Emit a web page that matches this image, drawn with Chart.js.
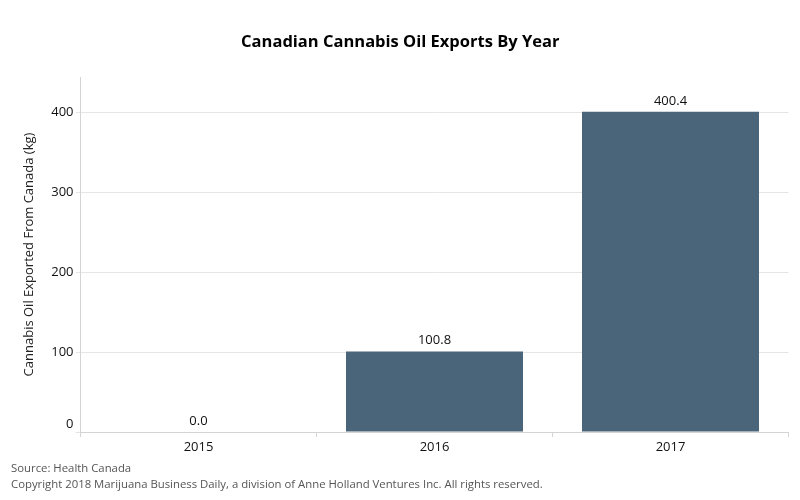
<!DOCTYPE html>
<html>
<head>
<meta charset="utf-8">
<style>
  html, body { margin: 0; padding: 0; background: #fff; }
</style>
</head>
<body>
<canvas id="exportsChart" width="800" height="500"></canvas>
<script src="https://cdn.jsdelivr.net/npm/chart.js@4"></script>
<script>
const years = ['2015', '2016', '2017'];
const exportsKg = [0.0, 100.8, 400.4];
const yTicks = [0, 100, 200, 300, 400];
const footerLines = [
    'Source: Health Canada',
    'Copyright 2018 Marijuana Business Daily, a division of Anne Holland Ventures Inc. All rights reserved.'
];

const fontName = '"Open Sans", "Noto Sans", sans-serif';

// value above each bar
const barLabels = {
    id: 'barLabels',
    afterDatasetsDraw(chart) {
        const c = chart.ctx;
        c.save();
        c.font = '13px ' + fontName;
        c.fillStyle = '#111';
        c.textAlign = 'center';
        c.textBaseline = 'middle';
        chart.getDatasetMeta(0).data.forEach((bar, i) => {
            c.fillText(exportsKg[i].toFixed(1), bar.x, bar.y - 11);
        });
        c.restore();
    }
};

// source lines under the chart
const footerText = {
    id: 'footerText',
    afterDraw(chart) {
        const c = chart.ctx;
        c.save();
        c.font = '11.35px ' + fontName;
        c.fillStyle = '#555';
        c.textAlign = 'left';
        c.textBaseline = 'middle';
        footerLines.forEach((line, i) => c.fillText(line, 11, 468.5 + i * 16));
        c.restore();
    }
};

new Chart(document.getElementById('exportsChart').getContext('2d'), {
    type: 'bar',
    data: {
        labels: years,
        datasets: [{
            label: 'Cannabis Oil Exported From Canada (kg)',
            data: exportsKg,
            backgroundColor: '#4a6579',
            barPercentage: 0.75,
            categoryPercentage: 1
        }]
    },
    options: {
        responsive: false,
        animation: false,
        layout: { padding: { left: 12, right: 11.5 } },
        plugins: {
            legend: { display: false },
            tooltip: { enabled: false },
            title: {
                display: true,
                text: 'Canadian Cannabis Oil Exports By Year',
                color: '#000',
                font: { family: fontName, size: 16.5, weight: 'bold' },
                padding: { top: 32, bottom: 25.2 }
            }
        },
        scales: {
            x: {
                afterFit: axis => { axis.height = 68; },
                grid: { offset: true, drawOnChartArea: false, color: '#d4d4d4', tickLength: 5 },
                border: { color: '#d4d4d4' },
                ticks: { color: '#111', font: { family: fontName, size: 13 }, padding: 2 }
            },
            y: {
                min: 0,
                max: 444,
                afterFit: axis => { axis.width = 68.5; },
                afterBuildTicks: axis => { axis.ticks = yTicks.map(v => ({ value: v })); },
                grid: { color: '#e6e6e6', tickLength: 5 },
                border: { color: '#d4d4d4' },
                ticks: {
                    color: '#111',
                    font: { family: fontName, size: 13 },
                    padding: 2,
                    // the zero label sits above the axis line
                    callback: v => (v === 0 ? ['0', ''] : String(v))
                },
                title: {
                    display: true,
                    text: 'Cannabis Oil Exported From Canada (kg)',
                    color: '#222',
                    font: { family: fontName, size: 13 },
                    padding: { top: 9, bottom: 0 }
                }
            }
        }
    },
    plugins: [barLabels, footerText]
});
</script>
</body>
</html>
